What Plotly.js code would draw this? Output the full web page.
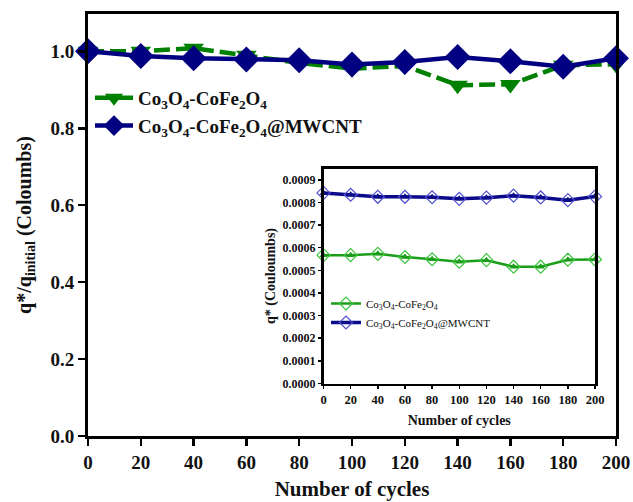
<!DOCTYPE html>
<html>
<head>
<meta charset="utf-8">
<script src="https://cdn.plot.ly/plotly-3.0.1.min.js"></script>
<style>html,body{margin:0;padding:0;background:#fff;}#plot{width:633px;height:502px;}</style>
</head>
<body>
<div id="plot"></div>
<script>
// Data
const cycles = [0, 20, 40, 60, 80, 100, 120, 140, 160, 180, 200];
const ratioCoFe = [1.0, 1.0, 1.008, 0.99, 0.97, 0.955, 0.962, 0.912, 0.914, 0.964, 0.966];
const ratioMWCNT = [1.0, 0.988, 0.982, 0.979, 0.977, 0.966, 0.972, 0.985, 0.974, 0.96, 0.982];
const qCoFe = [0.000567, 0.000567, 0.000573, 0.000559, 0.000549, 0.000538, 0.000545, 0.000516, 0.000516, 0.000547, 0.000548];
const qMWCNT = [0.000842, 0.000834, 0.000825, 0.000825, 0.000823, 0.000816, 0.000821, 0.000830, 0.000822, 0.000810, 0.000826];
const mainYTicks = [0, 0.2, 0.4, 0.6, 0.8, 1.0];
const insetYTicks = [0, 0.0001, 0.0002, 0.0003, 0.0004, 0.0005, 0.0006, 0.0007, 0.0008, 0.0009];
const nameCoFe = 'Co<sub>3</sub>O<sub>4</sub>-CoFe<sub>2</sub>O<sub>4</sub>';
const nameMWCNT = 'Co<sub>3</sub>O<sub>4</sub>-CoFe<sub>2</sub>O<sub>4</sub>@MWCNT';

const FONT = 'Liberation Serif, Times New Roman, serif';
const GREEN = '#008000', NAVY = '#000080';
const IGREEN = '#1a9e1a', IGREEN_L = '#3cc43c', INAVY = '#0a0a8a', INAVY_L = '#5050d0';

const traces = [
  {x: cycles, y: ratioCoFe, name: nameCoFe, type: 'scatter', mode: 'lines+markers',
   line: {color: GREEN, width: 4.5, dash: '16px,6px'},
   marker: {symbol: 'triangle-down', size: 18, color: GREEN}, legend: 'legend', cliponaxis: false},
  {x: cycles, y: ratioMWCNT, name: nameMWCNT, type: 'scatter', mode: 'lines+markers',
   line: {color: NAVY, width: 4.5},
   marker: {symbol: 'diamond', size: 20, color: NAVY}, legend: 'legend', cliponaxis: false},
  // inset
  {x: cycles, y: qCoFe, name: nameCoFe, type: 'scatter', mode: 'lines+markers', xaxis: 'x2', yaxis: 'y2',
   line: {color: IGREEN, width: 2.5},
   marker: {symbol: 'diamond-open', size: 10, color: IGREEN_L, line: {width: 1.2, color: IGREEN_L}},
   legend: 'legend2', cliponaxis: false},
  {x: cycles, y: qCoFe, type: 'scatter', mode: 'markers', xaxis: 'x2', yaxis: 'y2', showlegend: false,
   marker: {symbol: 'triangle-up', size: 7, color: IGREEN}, cliponaxis: false, hoverinfo: 'skip'},
  {x: cycles, y: qMWCNT, name: nameMWCNT, type: 'scatter', mode: 'lines+markers', xaxis: 'x2', yaxis: 'y2',
   line: {color: INAVY, width: 3.5},
   marker: {symbol: 'diamond-open', size: 10, color: INAVY_L, line: {width: 1.2, color: INAVY_L}},
   legend: 'legend2', cliponaxis: false},
  {x: cycles, y: qMWCNT, type: 'scatter', mode: 'markers', xaxis: 'x2', yaxis: 'y2', showlegend: false,
   marker: {symbol: 'triangle-up', size: 7, color: INAVY}, cliponaxis: false, hoverinfo: 'skip'}
];

const W = 633, H = 502;
const layout = {
  width: W, height: H,
  margin: {l: 0, r: 0, t: 0, b: 0},
  paper_bgcolor: '#fff', plot_bgcolor: 'rgba(0,0,0,0)',
  font: {family: FONT, color: '#111'},
  showlegend: true,
  xaxis: {
    domain: [88/W, 616/W], range: [0, 200], anchor: 'y',
    tickvals: cycles, ticks: 'outside', ticklen: 7, tickwidth: 2.5, tickcolor: '#000',
    showline: true, linewidth: 3, linecolor: '#000', mirror: true, showgrid: false, zeroline: false,
    tickfont: {size: 19, family: FONT, weight: 'bold', color: '#111'},
    title: {text: 'Number of cycles', font: {size: 21, family: FONT, weight: 'bold', color: '#111'}, standoff: 10}
  },
  yaxis: {
    domain: [(H-436)/H, (H-14)/H], range: [0, 1.097], anchor: 'x',
    tickvals: mainYTicks, tickformat: '.1f', ticks: 'outside', ticklen: 7, tickwidth: 2.5, tickcolor: '#000',
    showline: true, linewidth: 3, linecolor: '#000', mirror: true, showgrid: false, zeroline: false,
    tickfont: {size: 19, family: FONT, weight: 'bold', color: '#111'},
    title: {text: 'q*/q<sub>initial</sub> (Coloumbs)', font: {size: 20, family: FONT, weight: 'bold', color: '#111'}, standoff: 14}
  },
  xaxis2: {
    domain: [323.5/W, 595/W], range: [0, 200], anchor: 'y2',
    tickvals: cycles, ticks: 'outside', ticklen: 3, tickwidth: 1.5, tickcolor: '#000',
    showline: true, linewidth: 2.5, linecolor: '#000', mirror: true, showgrid: false, zeroline: false,
    tickfont: {size: 12.5, family: FONT, weight: 'bold', color: '#111'},
    title: {text: 'Number of cycles', font: {size: 14, family: FONT, weight: 'bold', color: '#111'}, standoff: 9}
  },
  yaxis2: {
    domain: [(H-383.5)/H, (H-168.5)/H], range: [0, 0.00095], anchor: 'x2',
    tickvals: insetYTicks, tickformat: '.4f', ticks: 'outside', ticklen: 3, tickwidth: 1.5, tickcolor: '#000',
    showline: true, linewidth: 2.5, linecolor: '#000', mirror: true, showgrid: false, zeroline: false,
    tickfont: {size: 12, family: FONT, weight: 'bold', color: '#111'},
    title: {text: 'q* (Couloumbs)', font: {size: 14, family: FONT, weight: 'bold', color: '#111'}, standoff: 4}
  },
  legend: {
    x: 90/W, y: (H-79)/H, xanchor: 'left', yanchor: 'top',
    bgcolor: 'rgba(0,0,0,0)', borderwidth: 0,
    font: {size: 19, family: FONT, weight: 'bold', color: '#111'},
    tracegroupgap: 0, itemwidth: 38
  },
  legend2: {
    x: 326/W, y: (H-289)/H, xanchor: 'left', yanchor: 'top',
    bgcolor: 'rgba(0,0,0,0)', borderwidth: 0,
    font: {size: 11, family: FONT, color: '#111'},
    tracegroupgap: 0, itemwidth: 30
  }
};

Plotly.newPlot('plot', traces, layout, {displayModeBar: false, staticPlot: true});
</script>
</body>
</html>
